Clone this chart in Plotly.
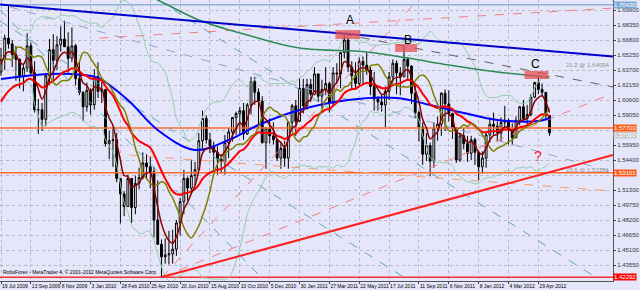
import plotly.graph_objects as go
import numpy as np
import pandas as pd

# ---------------- data (GBPUSD weekly) ----------------
high = [1.6600,1.6735,1.7043,1.6680,1.6620,1.6490,1.6430,1.6750,1.6650,1.6460,
        1.6070,1.6030,1.6340,1.6690,1.6740,1.6720,1.6820,1.6880,1.6760,1.6810,
        1.6640,1.6460,1.6150,1.6240,1.6180,1.6380,1.6450,1.6250,1.6170,1.5740,
        1.5780,1.5720,1.5250,1.5120,1.5290,1.5250,1.5280,1.5360,1.5520,1.5500,
        1.5470,1.5370,1.5230,1.4620,1.4630,1.4710,1.4720,1.4820,1.5050,1.5340,
        1.5270,1.5440,1.5420,1.5720,1.5950,1.5900,1.5720,1.5630,1.5580,1.5500,
        1.5700,1.5770,1.5880,1.5940,1.5990,1.6030,1.6030,1.6300,1.6300,1.6180,
        1.6100,1.5780,1.5870,1.5830,1.5640,1.5630,1.5640,1.5840,1.6020,1.6060,
        1.6280,1.6280,1.6280,1.6280,1.6400,1.6330,1.6270,1.6400,1.6250,1.6400,
        1.6440,1.6560,1.6746,1.6710,1.6460,1.6450,1.6500,1.6510,1.6550,1.6400,
        1.6350,1.6100,1.6120,1.6200,1.6350,1.6480,1.6470,1.6400,1.6618,1.6500,
        1.6420,1.6210,1.5950,1.5830,1.5720,1.5620,1.5830,1.5890,1.6140,1.6170,
        1.6160,1.5930,1.5780,1.5710,1.5770,1.5690,1.5690,1.5670,1.5540,1.5530,
        1.5720,1.5880,1.5930,1.5840,1.5880,1.6000,1.5870,1.5820,1.5890,1.6000,
        1.6060,1.6010,1.6120,1.6250,1.6301,1.6230,1.6140,1.5870]
low = [1.6310,1.6370,1.6590,1.6400,1.6260,1.6180,1.6150,1.6350,1.6310,1.5930,
       1.5710,1.5740,1.5790,1.6220,1.6260,1.6370,1.6560,1.6610,1.6340,1.6450,
       1.6210,1.6110,1.5840,1.5940,1.5910,1.5960,1.6080,1.6030,1.5580,1.5450,
       1.5370,1.5210,1.4785,1.4860,1.4960,1.4790,1.4880,1.5140,1.5240,1.5240,
       1.5150,1.4640,1.4640,1.4230,1.4370,1.4360,1.4370,1.4450,1.4660,1.4880,
       1.5020,1.5100,1.5180,1.5340,1.5560,1.5610,1.5510,1.5340,1.5290,1.5300,
       1.5290,1.5460,1.5630,1.5700,1.5700,1.5650,1.5700,1.5910,1.6010,1.5800,
       1.5610,1.5350,1.5610,1.5600,1.5430,1.5350,1.5370,1.5350,1.5750,1.5690,
       1.5850,1.5920,1.5960,1.6040,1.6110,1.6040,1.5970,1.6110,1.5930,1.5990,
       1.6230,1.6180,1.6490,1.6350,1.6170,1.6170,1.6200,1.6220,1.6320,1.6110,
       1.5950,1.5950,1.5940,1.5780,1.6060,1.6240,1.6120,1.6110,1.6300,1.6260,
       1.6020,1.5870,1.5630,1.5390,1.5430,1.5272,1.5360,1.5640,1.5690,1.5740,
       1.5840,1.5660,1.5410,1.5420,1.5550,1.5420,1.5440,1.5390,1.5233,1.5300,
       1.5360,1.5620,1.5690,1.5630,1.5630,1.5770,1.5600,1.5600,1.5670,1.5800,
       1.5850,1.5800,1.5890,1.6080,1.6120,1.6100,1.5870,1.5690]
close = [1.6480,1.6700,1.6640,1.6530,1.6480,1.6300,1.6390,1.6620,1.6340,1.5960,
         1.5960,1.5860,1.6310,1.6580,1.6470,1.6630,1.6690,1.6610,1.6490,1.6620,
         1.6280,1.6140,1.5990,1.6160,1.6010,1.6300,1.6150,1.6170,1.5610,1.5640,
         1.5650,1.5250,1.5090,1.4960,1.5250,1.4950,1.5200,1.5260,1.5410,1.5370,
         1.5320,1.4820,1.4570,1.4440,1.4460,1.4470,1.4520,1.4790,1.5010,1.5250,
         1.5150,1.5280,1.5340,1.5640,1.5870,1.5650,1.5580,1.5520,1.5450,1.5420,
         1.5620,1.5730,1.5880,1.5920,1.5950,1.5710,1.6010,1.6250,1.6140,1.6050,
         1.5620,1.5770,1.5690,1.5650,1.5460,1.5560,1.5460,1.5830,1.6000,1.5840,
         1.6180,1.6000,1.6220,1.6120,1.6330,1.6100,1.6170,1.6230,1.6030,1.6340,
         1.6330,1.6550,1.6680,1.6400,1.6310,1.6230,1.6460,1.6420,1.6370,1.6200,
         1.6070,1.6040,1.6010,1.6150,1.6300,1.6440,1.6340,1.6300,1.6480,1.6410,
         1.6130,1.5930,1.5780,1.5500,1.5590,1.5430,1.5770,1.5810,1.6130,1.6020,
         1.5920,1.5770,1.5440,1.5690,1.5610,1.5510,1.5650,1.5520,1.5370,1.5460,
         1.5700,1.5810,1.5790,1.5720,1.5830,1.5850,1.5750,1.5670,1.5850,1.5990,
         1.5870,1.5910,1.6090,1.6240,1.6170,1.6140,1.5900,1.5720]
first_open = 1.6350

tick_labels = ["19 Jul 2009", "13 Sep 2009", "8 Nov 2009", "3 Jan 2010", "28 Feb 2010",
               "25 Apr 2010", "20 Jun 2010", "15 Aug 2010", "10 Oct 2010", "5 Dec 2010",
               "30 Jan 2011", "27 Mar 2011", "22 May 2011", "17 Jul 2011", "11 Sep 2011",
               "6 Nov 2011", "8 Jan 2012", "4 Mar 2012", "29 Apr 2012"]
price_ticks = [1.43550, 1.45100, 1.46650, 1.48200, 1.49750, 1.51300, 1.52850, 1.54400,
               1.55950, 1.57500, 1.59050, 1.60600, 1.62150, 1.63700, 1.65250, 1.66800,
               1.68350, 1.69900]
hidden_ticks = [1.52850, 1.57500]   # covered by the level labels

# long moving averages (bar, price)
blue_bars = [0, 13, 22, 26, 34, 42, 52, 61, 69, 80, 93, 106, 115, 124, 133, 144, 147]
blue_vals = [1.6277, 1.6329, 1.6319, 1.6288, 1.6060, 1.5750, 1.5544, 1.5647, 1.5802,
             1.5957, 1.6060, 1.6081, 1.6009, 1.5926, 1.5854, 1.5843, 1.5874]
green_bars = [30, 42, 53, 66, 80, 98, 109, 120, 133, 147]
green_vals = [1.7300, 1.7093, 1.6887, 1.6732, 1.6597, 1.6556, 1.6494, 1.6422, 1.6350, 1.6298]
ema_fast_seed, ema_red_seed = 1.6400, 1.6000

# horizontal levels
h_levels = [1.70430, 1.57703, 1.53101, 1.42292]
bid_price = 1.57000
# drawn objects (bar0, price0, bar1, price1)
trend_blue = (-0.3, 1.7047, 164.0, 1.6510)
trend_red = (43.2, 1.4232, 164.0, 1.5492)
trend_gray = (91.7, 1.6742, 164.0, 1.6195)
trend_steel = (2.4, 1.7021, 164.0, 1.5317)
salmon_lines = [(26.4, 1.6700, 164.0, 1.7010),
                (43.2, 1.4232, 111.7, 1.7093),
                (43.2, 1.4232, 164.0, 1.6130)]
orange_dash = (34.4, 1.5492, 164.0, 1.5120)
teal_lines = [(-0.3, 1.6990, 69.9, 1.4222),
              (-0.3, 1.6876, 108.3, 1.4222),
              (42.1, 1.7093, 159.7, 1.4222)]

# ---------------- derived ----------------
n = len(close)
x = np.arange(n)
opn = [first_open] + close[:-1]
cs = pd.Series(close)

def ema(series, period, seed):
    a = 2.0 / (period + 1)
    out, prev = [], seed
    for v in series:
        prev = prev + a * (v - prev)
        out.append(prev)
    return out

dark = ema(close, 5, ema_fast_seed)
olive = cs.rolling(8, min_periods=1).mean().shift(3).bfill().tolist()
red = ema(close, 21, ema_red_seed)
mid = cs.rolling(20, min_periods=5).mean()
sd = cs.rolling(20, min_periods=5).std()
bb_up = (mid + 2 * sd).tolist()
bb_lo = (mid - 2 * sd).tolist()

fig = go.Figure()

def line(xs, ys, color, width, dash="solid"):
    fig.add_trace(go.Scatter(x=xs, y=ys, mode="lines", hoverinfo="skip",
                             line=dict(color=color, width=width, dash=dash, shape="spline"),
                             showlegend=False))

def seg(t, color, width, dash="solid"):
    fig.add_trace(go.Scatter(x=[t[0], t[2]], y=[t[1], t[3]], mode="lines", hoverinfo="skip",
                             line=dict(color=color, width=width, dash=dash), showlegend=False))

# horizontal lines
for lv, col in zip(h_levels, ["#8fb0d8", "#ff6a2a", "#ff6a2a", "#ff3030"]):
    seg((-1, lv, 170, lv), col, 1.5)

seg(trend_steel, "#8aa6c8", 1, "dash")
for t in teal_lines:
    seg(t, "#5fa8b0", 1, "dash")
for t in salmon_lines:
    seg(t, "#f08080", 1, "dash")
seg(orange_dash, "#f4a070", 1, "dash")
seg(trend_gray, "#606060", 1, "dash")

line(x, bb_up, "#8fcfa8", 1)
line(x, bb_lo, "#8fcfa8", 1)

fig.add_trace(go.Candlestick(x=x, open=opn, high=high, low=low, close=close,
                             increasing=dict(line=dict(color="#000000", width=1), fillcolor="#ffffff"),
                             decreasing=dict(line=dict(color="#000000", width=1), fillcolor="#000000"),
                             whiskerwidth=0, showlegend=False, hoverinfo="skip"))

line(green_bars, green_vals, "#2e8b57", 1.5)
line(blue_bars, blue_vals, "#0000ff", 2)
line(x, red, "#ff0000", 2)
line(x, olive, "#808000", 1.5)
line(x, dark, "#8b0000", 1.5)

seg(trend_blue, "#0000cc", 2)
seg(trend_red, "#ff2020", 2)

# boxes & letters
boxes = [(89.6, 96.3, 1.6690, 1.6783), (105.6, 111.5, 1.6556, 1.6639), (140.3, 146.7, 1.6277, 1.6360)]
for b in boxes:
    fig.add_shape(type="rect", x0=b[0], x1=b[1], y0=b[2], y1=b[3],
                  fillcolor="rgba(230,80,80,0.75)", line=dict(width=0))
for t, bx, py in [("A", 93.6, 1.6887), ("B", 109.0, 1.6680), ("C", 143.2, 1.6430)]:
    fig.add_annotation(x=bx, y=py, text=t, showarrow=False,
                       font=dict(family="Liberation Sans", size=12, color="#000"))
fig.add_annotation(x=144.0, y=1.5480, text="?", showarrow=False,
                   font=dict(family="Liberation Sans", size=14, color="#ff2020"))
fig.add_annotation(x=163.5, y=1.6420, xanchor="right", text="21.2 @ 1.64094", showarrow=False,
                   font=dict(family="Liberation Sans", size=6, color="#909090"))
fig.add_annotation(x=163.5, y=1.5333, xanchor="right", text="23.6 @ 1.53101", showarrow=False,
                   font=dict(family="Liberation Sans", size=6, color="#909090"))
fig.add_annotation(x=0, y=1.4235, xanchor="left", yanchor="bottom",
                   text="RoboForex - MetaTrader 4, © 2001-2012 MetaQuotes Software Corp.",
                   showarrow=False, font=dict(family="Liberation Sans", size=5, color="#000"))

# price labels
for lv, bg in zip([1.70430, bid_price, 1.57703, 1.53101, 1.42292],
                  ["#7fa7d6", "#c8c8c8", "#ff5a1a", "#ff5a1a", "#ff0000"]):
    fig.add_annotation(x=1.0, xref="paper", y=lv, xanchor="left", text=f"{lv:.5f}",
                       showarrow=False, bgcolor=bg, borderpad=0,
                       font=dict(family="Liberation Sans", size=6, color="#ffffff"))

fig.update_layout(
    width=640, height=290, margin=dict(l=0, r=24, t=0, b=9),
    paper_bgcolor="#e6e6fa", plot_bgcolor="#e6e6fa",
    xaxis=dict(range=[-0.27, 164], tickmode="array",
               tickvals=list(range(0, 8 * len(tick_labels), 8)), ticktext=tick_labels,
               tickangle=0, ticklabelposition="outside right",
               showgrid=True, gridcolor="#b8b8c8", griddash="dot", gridwidth=1,
               rangeslider=dict(visible=False), ticks="outside", ticklen=2,
               tickfont=dict(family="Liberation Sans", size=5, color="#000"),
               showline=True, linecolor="#555", zeroline=False),
    yaxis=dict(range=[1.41906, 1.70933], side="right", tickmode="array",
               tickvals=price_ticks,
               ticktext=["" if v in hidden_ticks else f"{v:.5f}" for v in price_ticks],
               showgrid=True, gridcolor="#b8b8c8", griddash="dot", gridwidth=1,
               ticks="outside", ticklen=2,
               tickfont=dict(family="Liberation Sans", size=6, color="#333"),
               showline=True, linecolor="#555", zeroline=False),
)
fig.write_html("out.html")
